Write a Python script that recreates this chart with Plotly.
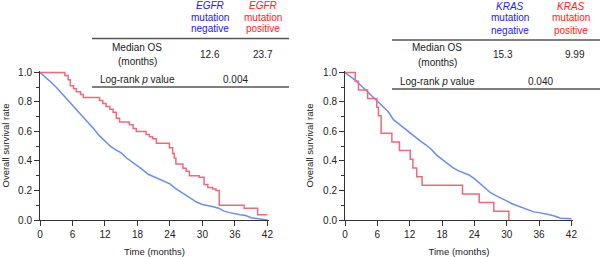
import plotly.graph_objects as go
from plotly.subplots import make_subplots

# ---------------- data ----------------
# Left panel: EGFR
egfr_neg_time = [0, 1, 2, 3, 4, 5, 6, 7, 8, 9, 10, 11, 12, 13, 14, 15, 16, 17, 18, 19, 20,
                 21, 22, 23, 24, 25, 26, 27, 28, 29, 30, 31, 32, 33, 34, 35, 36, 37, 38, 39, 40, 41, 42]
egfr_neg_surv = [1.0, 0.97, 0.935, 0.90, 0.86, 0.82, 0.775, 0.735, 0.70, 0.655, 0.615, 0.57, 0.535,
                 0.50, 0.475, 0.455, 0.42, 0.395, 0.37, 0.34, 0.31, 0.295, 0.275, 0.265, 0.245, 0.215,
                 0.19, 0.165, 0.145, 0.12, 0.105, 0.10, 0.09, 0.08, 0.06, 0.05, 0.04, 0.035, 0.03,
                 0.015, 0.01, 0.005, 0.0]
egfr_pos_time = [0, 4.6, 5.2, 5.6, 6.2, 6.7, 7.5, 8.0, 11.0, 11.6, 12.2, 12.9, 13.5, 14.1, 14.7,
                 16.5, 17.2, 17.8, 19.6, 20.2, 20.8, 21.5, 23.9, 24.5, 24.8, 25.1, 26.4, 27.0, 27.6,
                 29.4, 30.3, 31.0, 31.9, 32.5, 33.1, 37.7, 40.2, 42.0]
egfr_pos_surv = [1.0, 0.98, 0.95, 0.91, 0.89, 0.87, 0.85, 0.83, 0.81, 0.79, 0.77, 0.75, 0.73, 0.69,
                 0.665, 0.645, 0.62, 0.60, 0.58, 0.565, 0.55, 0.52, 0.49, 0.45, 0.42, 0.38, 0.35, 0.33,
                 0.30, 0.29, 0.24, 0.22, 0.21, 0.20, 0.10, 0.08, 0.035, 0.035]

# Right panel: KRAS
kras_neg_time = [0, 1, 2, 3, 4, 5, 6, 7, 8, 9, 10, 11, 12, 13, 14, 15, 16, 17, 18, 19, 20,
                 21, 22, 23, 24, 25, 26, 27, 28, 29, 30, 31, 32, 33, 34, 35, 36, 37, 38, 39, 40, 41, 42]
kras_neg_surv = [1.0, 0.975, 0.945, 0.91, 0.875, 0.84, 0.81, 0.775, 0.735, 0.68, 0.65, 0.62, 0.59,
                 0.56, 0.535, 0.51, 0.48, 0.44, 0.41, 0.385, 0.355, 0.335, 0.32, 0.305, 0.28, 0.25,
                 0.215, 0.185, 0.165, 0.15, 0.13, 0.11, 0.095, 0.08, 0.065, 0.055, 0.05, 0.045, 0.035,
                 0.025, 0.012, 0.01, 0.008]
kras_pos_time = [0, 1.9, 2.5, 4.2, 5.9, 6.2, 6.7, 8.7, 10.1, 12.1, 12.6, 13.3, 14.3, 21.8, 24.9, 27.6, 30.4]
kras_pos_surv = [1.0, 0.941, 0.882, 0.824, 0.765, 0.706, 0.588, 0.529, 0.471, 0.412, 0.353, 0.294,
                 0.235, 0.176, 0.118, 0.059, 0.0]

x_ticks = [0, 6, 12, 18, 24, 30, 36, 42]
y_ticks = [0.0, 0.2, 0.4, 0.6, 0.8, 1.0]

egfr_median = ["12.6", "23.7"]
egfr_p = "0.004"
kras_median = ["15.3", "9.99"]
kras_p = "0.040"

# ---------------- styles ----------------
BLUE_LINE = "#6a8ee6"
RED_LINE = "#ec6a7e"
BLUE_TXT = "#2020ff"
RED_TXT = "#ff2020"
TXT = "#222222"
FONT = "Arial, Liberation Sans, sans-serif"

W, H = 600, 257
ML, MR, MT, MB = 40, 27, 71, 37
PW = W - ML - MR
PH = H - MT - MB


def px(x):
    return (x - ML) / PW


def py(y):
    return (H - MB - y) / PH


fig = make_subplots(rows=1, cols=2, horizontal_spacing=0.0)
fig.update_layout(
    xaxis=dict(domain=[0, px(269)]),
    xaxis2=dict(domain=[px(345), 1.0]),
)

fig.add_trace(go.Scatter(x=egfr_neg_time, y=egfr_neg_surv, mode="lines",
                         line=dict(color=BLUE_LINE, width=1.5), showlegend=False), row=1, col=1)
fig.add_trace(go.Scatter(x=egfr_pos_time, y=egfr_pos_surv, mode="lines", line_shape="hv",
                         line=dict(color=RED_LINE, width=1.5), showlegend=False), row=1, col=1)
fig.add_trace(go.Scatter(x=kras_neg_time, y=kras_neg_surv, mode="lines",
                         line=dict(color=BLUE_LINE, width=1.5), showlegend=False), row=1, col=2)
fig.add_trace(go.Scatter(x=kras_pos_time, y=kras_pos_surv, mode="lines", line_shape="hv",
                         line=dict(color=RED_LINE, width=1.5), showlegend=False), row=1, col=2)

axis_common = dict(showgrid=False, zeroline=False, showline=True, linecolor="#333333", linewidth=1,
                   ticks="outside", ticklen=5, tickwidth=1, tickcolor="#333333",
                   tickfont=dict(family=FONT, size=10, color=TXT))
for c in (1, 2):
    fig.update_xaxes(range=[0, 42.3], tickvals=x_ticks, ticktext=[str(t) for t in x_ticks],
                     title=dict(text="Time (months)", font=dict(family=FONT, size=9.5, color=TXT),
                                standoff=9),
                     row=1, col=c, **axis_common)
    fig.update_yaxes(range=[0, 1.01], tickvals=y_ticks, ticktext=[f"{v:.1f}" for v in y_ticks],
                     minor=dict(ticks="outside", ticklen=3, tickcolor="#333333", dtick=0.1, tick0=0),
                     title=dict(text="Overall survival rate", font=dict(family=FONT, size=9.5, color=TXT),
                                standoff=7),
                     row=1, col=c, **axis_common)

annotations = []


def add_text(text, x, y, color=TXT, size=10):
    annotations.append(dict(text=text, x=px(x), y=py(y), xref="paper", yref="paper",
                            xanchor="center", yanchor="middle", showarrow=False,
                            font=dict(family=FONT, size=size, color=color)))


# Left table
for label, y in (("<i>EGFR</i>", 5), ("mutation", 17), ("negative", 29)):
    add_text(label, 210, y, BLUE_TXT)
for label, y in (("<i>EGFR</i>", 5), ("mutation", 17), ("positive", 29)):
    add_text(label, 263, y, RED_TXT)
add_text("Median OS", 137, 48)
add_text("(months)", 137, 61)
add_text(egfr_median[0], 210, 54)
add_text(egfr_median[1], 263, 54)
add_text("Log-rank <i>p</i> value", 137, 79)
add_text(egfr_p, 235, 79)

# Right table
for label, y in (("<i>KRAS</i>", 6), ("mutation", 18), ("negative", 31)):
    add_text(label, 510, y, BLUE_TXT)
for label, y in (("<i>KRAS</i>", 6), ("mutation", 18), ("positive", 31)):
    add_text(label, 571, y, RED_TXT)
add_text("Median OS", 437, 48)
add_text("(months)", 437, 62)
add_text(kras_median[0], 503, 55)
add_text(kras_median[1], 575, 55)
add_text("Log-rank <i>p</i> value", 437, 81)
add_text(kras_p, 540, 81)

shapes = []
for (x0, x1, y) in ((92, 289, 38.5), (92, 289, 87), (392, 600, 40), (392, 600, 89)):
    shapes.append(dict(type="line", xref="paper", yref="paper", x0=px(x0), x1=px(x1),
                       y0=py(y), y1=py(y), line=dict(color="#555555", width=1.3)))

fig.update_layout(
    width=W, height=H,
    margin=dict(l=ML, r=MR, t=MT, b=MB, autoexpand=False),
    paper_bgcolor="white", plot_bgcolor="white",
    annotations=annotations, shapes=shapes,
    font=dict(family=FONT, color=TXT),
)

fig.write_html("out.html", config={"displayModeBar": False},
               post_script="document.body.style.margin='0';document.body.style.overflow='hidden';")
